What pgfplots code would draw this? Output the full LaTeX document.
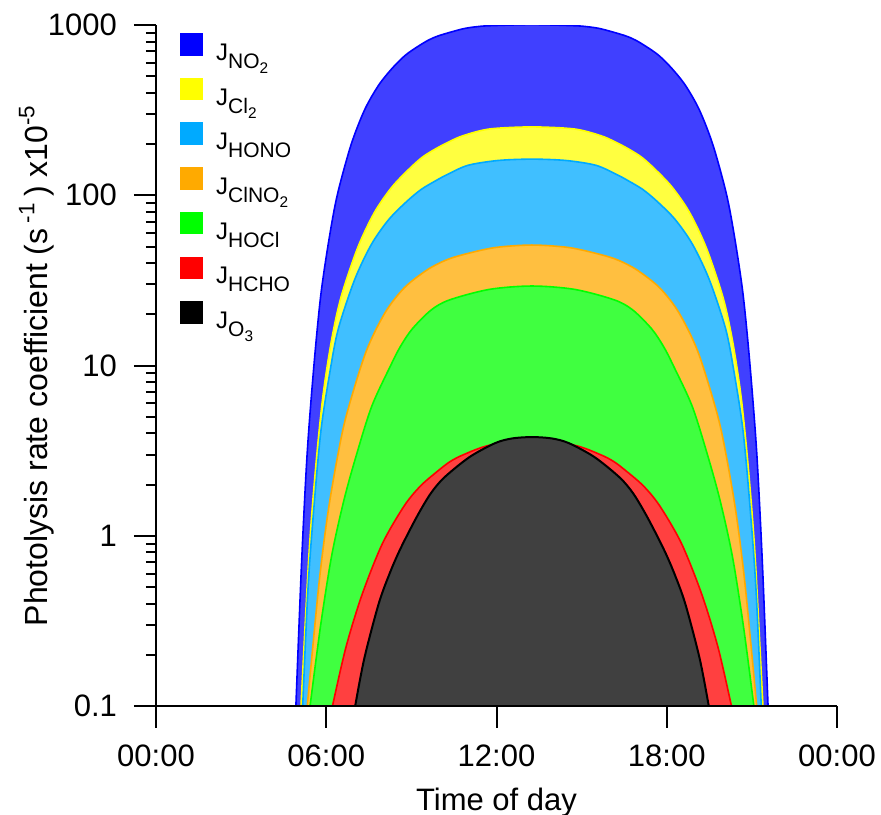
\documentclass[border=0pt]{standalone}
\usepackage{fontspec}
\setmainfont{Liberation Sans}
\usepackage{pgfplots}
\pgfplotsset{compat=1.18}

\definecolor{cNO}{HTML}{0000FF}
\definecolor{cCl}{HTML}{FFFF00}
\definecolor{cHONO}{HTML}{00AAFF}
\definecolor{cClNO}{HTML}{FFAA00}
\definecolor{cHOCl}{HTML}{00FF00}
\definecolor{cHCHO}{HTML}{FF0000}
\definecolor{cO}{HTML}{000000}

% subscripts for the legend labels
\newcommand{\lsub}[1]{\raisebox{-4pt}{\fontsize{10.5}{12}\selectfont #1}}
\newcommand{\lsubb}[1]{\raisebox{-2.5pt}{\fontsize{7.7}{9}\selectfont #1}}
\newcommand{\jlab}[1]{\raisebox{0pt}[14pt][8pt]{J#1}}

\pgfplotsset{
  sq/.style={legend image code/.code={\fill[#1] (0pt,-3.5pt) rectangle (10.5pt,7pt);}},
  band/.style={draw=#1, line width=0.8pt, fill=#1!75!white},
}

\begin{document}
\begin{tikzpicture}
\begin{axis}[
  scale only axis, width=340.5pt, height=340.5pt,
  ymode=log, xmin=0, xmax=24, ymin=0.1, ymax=1000,
  axis x line*=bottom, axis y line*=left,
  axis on top,
  axis line style={line width=1pt},
  tick align=outside,
  major tick length=11pt, minor tick length=5pt,
  every tick/.style={black, line width=1pt},
  xtick={0,6,12,18,24}, xticklabels={00:00,06:00,12:00,18:00,00:00},
  minor xtick={},
  ytick={0.1,1,10,100,1000}, yticklabels={0.1,1,10,100,1000},
  minor ytick={0.2,0.3,0.4,0.5,0.6,0.7,0.8,0.9,2,3,4,5,6,7,8,9,20,30,40,50,60,70,80,90,200,300,400,500,600,700,800,900},
  tick label style={font=\fontsize{15.5}{18}\selectfont},
  xticklabel style={yshift=-5pt},
  yticklabel style={xshift=-5pt},
  xlabel={Time of day},
  xlabel style={font=\fontsize{15.5}{18}\selectfont, at={(axis description cs:0.5,0)}, anchor=base, yshift=-52pt},
  ylabel={Photolysis rate coefficient (s\,\textsuperscript{-1}\,) x10\textsuperscript{-5}},
  ylabel style={font=\fontsize{16}{19}\selectfont, at={(axis description cs:-0.160,0.5)}, anchor=base},
  legend style={at={(axis description cs:0.035,0.9956)}, anchor=north west,
    draw=none, fill=none, font=\fontsize{12}{14}\selectfont,
    row sep=2.85pt, inner sep=0pt,
    /tikz/every odd column/.append style={column sep=4.5pt}},
  legend cell align=left,
]
% J(NO2)
\addplot[band=cNO, sq=cNO, smooth] coordinates {
(4.93,0.1) (5.13,0.691) (5.33,3.09) (5.57,10.2) (5.81,26.1) (6.10,55.4)
(6.39,100.5) (6.87,197) (7.35,317) (7.85,444) (8.35,563) (8.80,667)
(9.25,752) (9.62,818) (10.00,869) (10.80,948) (11.27,976) (11.75,990)
(13.25,1005)
(14.75,990) (15.23,976) (15.70,948) (16.50,869) (16.88,818) (17.25,752)
(17.70,667) (18.15,563) (18.65,444) (19.15,317) (19.63,197) (20.11,100.5)
(20.40,55.4) (20.69,26.1) (20.93,10.2) (21.17,3.09) (21.37,0.691) (21.57,0.1)};
\addlegendentry{\jlab{\lsub{NO\lsubb{2}}}}
% J(Cl2)
\addplot[band=cCl, sq=cCl, smooth] coordinates {
(5.11,0.1) (5.39,0.774) (5.63,2.55) (5.88,6.55) (6.18,13.9) (6.52,25.2)
(7.11,49.3) (7.70,79.4) (8.30,111) (8.89,141) (9.38,167) (9.87,188)
(10.35,207) (10.83,224) (11.75,245) (13.25,252)
(14.75,245) (15.67,224) (16.15,207) (16.63,188) (17.12,167) (17.61,141)
(18.20,111) (18.80,79.4) (19.39,49.3) (19.98,25.2) (20.32,13.9)
(20.62,6.55) (20.87,2.55) (21.11,0.774) (21.39,0.1)};
\addlegendentry{\jlab{\lsub{Cl\lsubb{2}}}}
% J(HONO)
\addplot[band=cHONO, sq=cHONO, smooth] coordinates {
(5.17,0.1) (5.36,0.5) (5.59,1.65) (5.82,4.24) (6.12,8.97) (6.42,16.3)
(7.00,31.9) (7.59,51.4) (8.20,71.9) (8.82,91.4) (9.34,108) (9.87,122)
(10.29,133) (11.00,150) (12.05,160) (13.25,163)
(14.45,160) (15.50,150) (16.21,133) (16.63,122) (17.16,108) (17.68,91.4)
(18.30,71.9) (18.91,51.4) (19.50,31.9) (20.08,16.3) (20.38,8.97)
(20.68,4.24) (20.91,1.65) (21.14,0.5) (21.33,0.1)};
\addlegendentry{\jlab{\lsub{HONO}}}
% J(ClNO2)
\addplot[band=cClNO, sq=cClNO, smooth] coordinates {
(5.33,0.1) (5.74,0.516) (6.05,1.33) (6.38,2.81) (6.71,5.1) (7.39,11.9)
(8.07,20.4) (8.75,28.6) (9.55,36.4) (10.22,41.6) (10.87,45) (11.95,49.3)
(13.25,51)
(14.55,49.3) (15.63,45) (16.28,41.6) (16.95,36.4) (17.75,28.6) (18.43,20.4)
(19.11,11.9) (19.79,5.1) (20.12,2.81) (20.45,1.33) (20.76,0.516) (21.17,0.1)};
\addlegendentry{\jlab{\lsub{ClNO\lsubb{2}}}}
% J(HOCl)
\addplot[band=cHOCl, sq=cHOCl, smooth] coordinates {
(5.43,0.1) (5.80,0.296) (6.19,0.762) (6.62,1.61) (7.05,2.93) (7.60,5.74)
(8.27,10) (8.61,12.9) (9.03,16.4) (9.70,21.2) (10.35,24.3) (11.75,28)
(13.25,29.3)
(14.75,28) (16.15,24.3) (16.80,21.2) (17.47,16.4) (17.89,12.9) (18.23,10)
(18.90,5.74) (19.45,2.93) (19.88,1.61) (20.31,0.762) (20.70,0.296) (21.07,0.1)};
\addlegendentry{\jlab{\lsub{HOCl}}}
% J(HCHO)
\addplot[band=cHCHO, sq=cHCHO, smooth] coordinates {
(6.22,0.1) (6.69,0.22) (7.26,0.45) (7.98,0.9) (8.75,1.5) (9.32,1.96)
(9.93,2.4) (10.37,2.73) (10.85,3.0) (11.75,3.4) (13.25,3.65)
(14.75,3.4) (15.65,3.0) (16.13,2.73) (16.57,2.4) (17.18,1.96) (17.75,1.5)
(18.52,0.9) (19.24,0.45) (19.81,0.22) (20.28,0.1)};
\addlegendentry{\jlab{\lsub{HCHO}}}
% J(O3)
\addplot[band=cO, line width=1pt, sq=cO, smooth] coordinates {
(7.02,0.1) (7.34,0.19) (7.85,0.4) (8.25,0.61) (8.63,0.85) (9.20,1.3)
(9.68,1.77) (10.16,2.2) (11.05,2.9) (11.95,3.5) (12.55,3.73) (13.25,3.8)
(13.95,3.73) (14.55,3.5) (15.45,2.9) (16.34,2.2) (16.82,1.77) (17.30,1.3)
(17.87,0.85) (18.25,0.61) (18.65,0.4) (19.16,0.19) (19.48,0.1)};
\addlegendentry{\jlab{\lsub{O\lsubb{3}}}}
\coordinate (bl) at (rel axis cs:0,0);
\coordinate (tr) at (rel axis cs:1,1);
\end{axis}
\pgfresetboundingbox
\path ([xshift=-78pt,yshift=-54pt]bl) rectangle ([xshift=22pt,yshift=12.5pt]tr);
\end{tikzpicture}
\end{document}
